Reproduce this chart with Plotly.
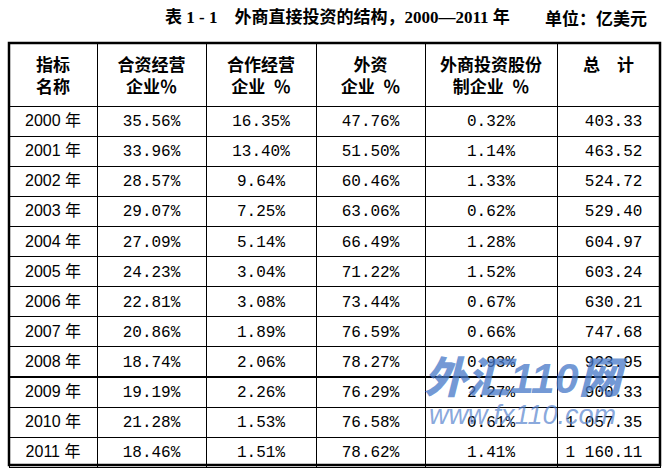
import plotly.graph_objects as go

EN = "\u2002"   # en space (0.5em)
QS = "\u2005"   # four-per-em space (0.25em)

headers = ["指标<br>名称",
           "合资经营<br>" + EN + "企业％",
           "合作经营<br>" + QS + "企业" + EN + "％",
           EN + QS + "外资<br>企业" + EN + "％",
           "外商投资股份<br>" + EN + QS + "制企业" + EN + "％",
           "总　计"]
years = ["2000 年", "2001 年", "2002 年", "2003 年", "2004 年", "2005 年",
         "2006 年", "2007 年", "2008 年", "2009 年", "2010 年", "2011 年"]
joint_venture = ["35.56%", "33.96%", "28.57%", "29.07%", "27.09%", "24.23%",
                 "22.81%", "20.86%", "18.74%", "19.19%", "21.28%", "18.46%"]
cooperative = ["16.35%", "13.40%", "9.64%", "7.25%", "5.14%", "3.04%",
               "3.08%", "1.89%", "2.06%", "2.26%", "1.53%", "1.51%"]
wholly_foreign = ["47.76%", "51.50%", "60.46%", "63.06%", "66.49%", "71.22%",
                  "73.44%", "76.59%", "78.27%", "76.29%", "76.58%", "78.62%"]
share_holding = ["0.32%", "1.14%", "1.33%", "0.62%", "1.28%", "1.52%",
                 "0.67%", "0.66%", "0.93%", "2.27%", "0.61%", "1.41%"]
totals = ["403.33", "463.52", "524.72", "529.40", "604.97", "603.24",
          "630.21", "747.68", "923.95", "900.33", "1\u00a0057.35", "1\u00a0160.11"]

title_text = "表 1 - 1　外商直接投资的结构，2000—2011 年"
unit_text = "单位：亿美元"
watermark_big = "外汇110网"
watermark_url = "www.fx110.com"

W, H = 670, 474
x0, x1 = 9, 660
y0, y1 = 43, 465

mono = "Liberation Mono, Noto Sans CJK SC"
cjk = "Noto Sans CJK SC"

fig = go.Figure(go.Table(
    domain=dict(x=[x0 / W, x1 / W], y=[0, 1 - y0 / H]),
    columnwidth=[88, 109, 110, 109, 132, 103],
    header=dict(
        values=[f"<b>{h}</b>" for h in headers],
        height=61,
        align="center",
        font=dict(family=cjk, size=17, color="black"),
        fill_color="white",
        line=dict(color="black", width=1),
    ),
    cells=dict(
        values=[years, joint_venture, cooperative, wholly_foreign, share_holding, totals],
        height=30.1,
        align=["center", "center", "center", "center", "center", "right"],
        suffix=["", "", "", "", "", "\u00a0"],
        font=dict(family=["Liberation Sans, Noto Sans CJK SC", mono, mono, mono, mono, mono],
                  size=16, color="black"),
        fill_color="white",
        line=dict(color="black", width=1),
    ),
))

fig.add_shape(type="rect", xref="paper", yref="paper",
              x0=x0 / W, x1=x1 / W, y0=1 - y1 / H, y1=1 - y0 / H,
              line=dict(color="black", width=2.5))

fig.add_annotation(text=f"<b>{title_text}</b>", xref="paper", yref="paper",
                   x=163 / W, y=1 - 17 / H, xanchor="left", yanchor="middle",
                   showarrow=False,
                   font=dict(family="Liberation Serif, Noto Sans CJK SC", size=17, color="black"))
fig.add_annotation(text=f"<b>{unit_text}</b>", xref="paper", yref="paper",
                   x=543 / W, y=1 - 17 / H, xanchor="left", yanchor="middle",
                   showarrow=False, font=dict(family=cjk, size=17, color="black"))

fig.add_annotation(text=f"<i>{watermark_big}</i>", xref="paper", yref="paper",
                   x=526 / W, y=1 - 378 / H, xanchor="center", yanchor="middle",
                   showarrow=False,
                   font=dict(family="Liberation Sans, Noto Sans CJK SC", size=43, weight=900,
                             color="rgba(70,120,200,0.75)"))
fig.add_annotation(text=f"<i>{watermark_url}</i>", xref="paper", yref="paper",
                   x=522 / W, y=1 - 415 / H, xanchor="center", yanchor="middle",
                   showarrow=False,
                   font=dict(family="Liberation Sans", size=27, color="rgba(85,130,205,0.7)"))

fig.update_layout(width=W, height=H, margin=dict(l=0, r=0, t=0, b=0),
                  paper_bgcolor="white", plot_bgcolor="white")

fig.write_html("out.html", config={"displayModeBar": False},
               post_script="document.body.style.margin='0';")
